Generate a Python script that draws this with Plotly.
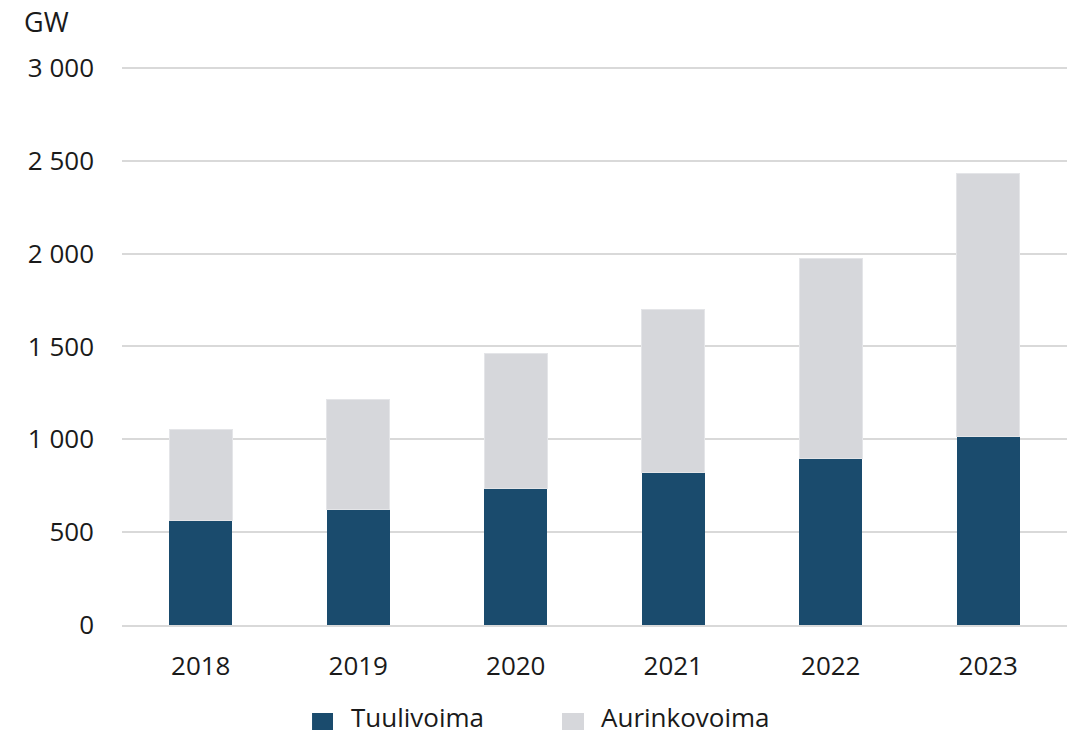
import plotly.graph_objects as go

years = ['2018', '2019', '2020', '2021', '2022', '2023']
tuulivoima = [565, 624, 735, 824, 898, 1016]
aurinkovoima = [490, 591, 727, 873, 1075, 1418]

wind_color = '#1a4b6d'
solar_color = '#d6d7db'
text_color = '#1a1a1a'
grid_color = '#d9d9d9'
font_family = 'Open Sans, Noto Sans, sans-serif'

data = [
    go.Bar(x=years, y=tuulivoima, name='Tuulivoima', showlegend=False,
           marker=dict(color=wind_color, line=dict(width=0))),
    go.Bar(x=years, y=aurinkovoima, name='Aurinkovoima', showlegend=False,
           marker=dict(color=solar_color, line=dict(color='#e4e5e8', width=1))),
]

# legend drawn by hand so the swatches match the larger squares of the original
legend_items = [('Tuulivoima', wind_color, 0.2011, 0.2233, 0.2413),
                ('Aurinkovoima', solar_color, 0.4656, 0.4889, 0.5058)]
shapes = []
annotations = [dict(
    text='GW', xref='paper', yref='paper',
    x=-0.106, y=1.0777, xanchor='left', yanchor='middle',
    showarrow=False, font=dict(size=27, color=text_color),
)]
for label, col, x0, x1, xt in legend_items:
    shapes.append(dict(type='rect', xref='paper', yref='paper',
                       x0=x0, x1=x1, y0=-0.1571, y1=-0.1875,
                       fillcolor=col, line=dict(width=0)))
    annotations.append(dict(text=label, xref='paper', yref='paper',
                            x=xt, y=-0.1978, xanchor='left', yanchor='bottom',
                            showarrow=False, borderpad=0,
                            font=dict(size=26, color=text_color)))

layout = go.Layout(
    barmode='stack',
    bargap=0.6,
    width=1069, height=736,
    margin=dict(l=122, r=2, t=65, b=111, pad=0),
    plot_bgcolor='white',
    paper_bgcolor='white',
    font=dict(family=font_family, size=26, color=text_color),
    separators='. ',
    showlegend=False,
    xaxis=dict(
        automargin=False,
        showgrid=False,
        showline=True, linecolor=grid_color, linewidth=2,
        ticks='', ticklabelstandoff=17,
        tickfont=dict(size=26, color=text_color),
    ),
    yaxis=dict(
        automargin=False,
        range=[0, 3016],
        tickvals=[0, 500, 1000, 1500, 2000, 2500, 3000],
        tickformat=',d',
        separatethousands=True,
        showgrid=True, gridcolor=grid_color, gridwidth=2,
        zeroline=False,
        ticks='', ticklabelstandoff=27,
        tickfont=dict(size=26, color=text_color),
    ),
    shapes=shapes,
    annotations=annotations,
)

fig = go.Figure(data=data, layout=layout)
# page body has a default 8px margin; drop it so the figure sits at the window corner
fig.write_html('out.html', config={'displayModeBar': False},
               post_script="document.body.style.margin='0';")
